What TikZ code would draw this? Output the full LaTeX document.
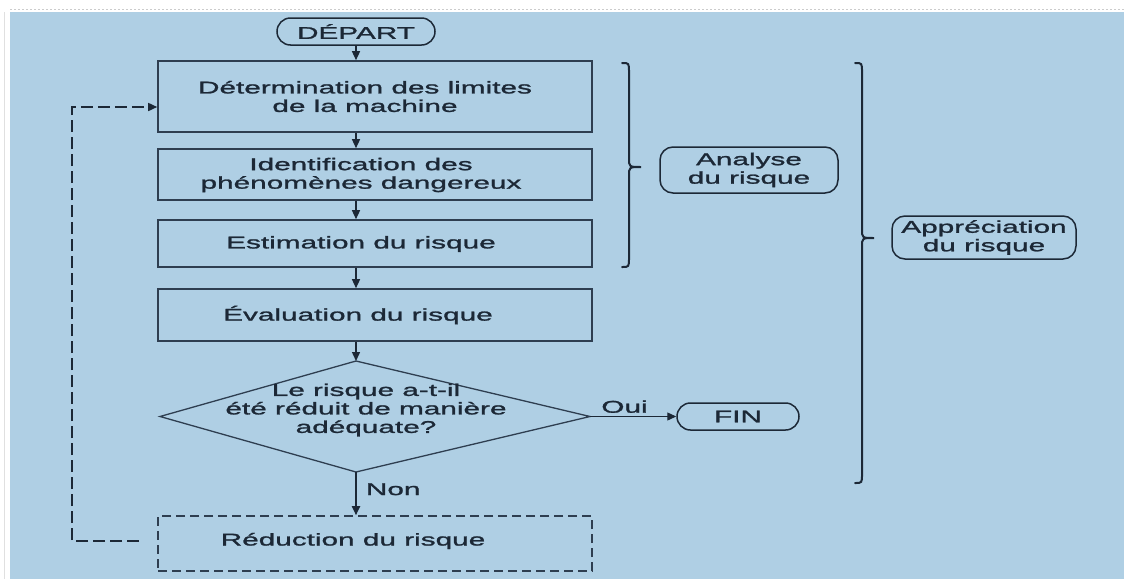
\documentclass[tikz,border=0pt]{standalone}
\usepackage{fontspec}
\setmainfont[FakeStretch=1.75,FakeBold=1.4]{Liberation Sans}
\usetikzlibrary{arrows.meta,shapes.misc,calc}
\definecolor{bg}{HTML}{AFCFE4}
\definecolor{ink}{HTML}{1C2836}
\definecolor{edge}{HTML}{2E3E50}
\begin{document}
\begin{tikzpicture}[x=1pt,y=-1pt,
  every node/.style={font=\fontsize{17}{18.5}\selectfont, text=ink},
  stepbox/.style={draw=edge, line width=1.6pt, minimum width=434pt, inner sep=0pt},
  txt/.style={align=center, inner sep=0pt},
  term/.style={rounded rectangle, draw=ink, line width=1.5pt, inner sep=0pt, minimum height=27pt},
  tag/.style={draw=ink, line width=1.5pt, rounded corners=13pt, align=center, inner sep=0pt},
  arr/.style={draw=ink, line width=1.4pt, -{Triangle[length=9pt,width=8pt]}},
  fb/.style={draw=ink, line width=1.6pt, dash pattern=on 12pt off 5pt, -{Triangle[length=9pt,width=8pt]}},
  brace/.style={draw=ink, line width=2pt, line cap=round}
]
% page and panel
\useasboundingbox (0,0) rectangle (1124,579);
\fill[white] (0,0) rectangle (1124,579);
\fill[bg] (10,12) rectangle (1124,579);
\draw[black!20, line width=1pt, dash pattern=on 2pt off 2pt] (10,9.5) -- (1124,9.5);
\draw[black!12, line width=0.8pt] (4,12) -- (4,579);

% start
\node[term, minimum width=158pt] (dep) at (356,31.5) {DÉPART};

% process steps
\node[stepbox, minimum height=71pt] (b1) at (375,96.5) {};
\node[txt] (t1) at (365,96.5) {Détermination des limites\\de la machine};
\node[stepbox, minimum height=51pt] (b2) at (375,174.5) {};
\node[txt] (t2) at (361,175) {Identification des\\phénomènes dangereux};
\node[stepbox, minimum height=47pt] (b3) at (375,243.5) {};
\node[txt] (t3) at (361,244) {Estimation du risque};
\node[stepbox, minimum height=52pt] (b4) at (375,315) {};
\node[txt] (t4) at (358,315) {Évaluation du risque};

% decision
\coordinate (dT) at (356,361);
\coordinate (dL) at (160,416.5);
\coordinate (dR) at (590,416.5);
\coordinate (dB) at (356,472);
\draw[draw=edge, line width=1.3pt] (dT) -- (dR) -- (dB) -- (dL) -- cycle;
\node[txt] (dq) at (366,410) {Le risque a-t-il\\été réduit de manière\\adéquate?};

% reduction step
\node[stepbox, dash pattern=on 9pt off 5pt, minimum height=55pt] (b5) at (375,543.5) {};
\node[txt] (t5) at (353,541) {Réduction du risque};

% end
\node[term, minimum width=122pt] (fin) at (738,416.5) {FIN};

% flow
\draw[arr] (dep.south) -- (dep.south |- b1.north);
\draw[arr] (b1.south -| dep) -- (b2.north -| dep);
\draw[arr] (b2.south -| dep) -- (b3.north -| dep);
\draw[arr] (b3.south -| dep) -- (b4.north -| dep);
\draw[arr] (b4.south -| dep) -- (dT);
\draw[arr, line width=1.8pt] (dB) -- (b5.north -| dB) node[pos=0.4, right=9pt, inner sep=0pt] (non) {Non};
\draw[arr, line width=1.3pt] (dR) -- (fin.west) node[pos=0.4, above=3pt, inner sep=0pt] (oui) {Oui};

% feedback loop
\coordinate (fbS) at ($(b5.west)+(-18,-2.5)$);
\coordinate (fbX) at (72,0);
\coordinate (fbE) at ($(b1.west)+(0,10.5)$);
\draw[fb] (fbS) -- (fbS -| fbX) -- (fbX |- fbE) -- (fbE);

% braces
\draw[brace] (622,63) .. controls (629,63) .. (629,72) -- (629,158)
  .. controls (629,167) .. (641,167) .. controls (629,167) .. (629,176)
  -- (629,258) .. controls (629,267) .. (622,267);
\draw[brace] (855,63) .. controls (862,63) .. (862,72) -- (862,229)
  .. controls (862,238) .. (874,238) .. controls (862,238) .. (862,247)
  -- (862,474) .. controls (862,483) .. (855,483);

% group labels
\node[tag, minimum width=178pt, minimum height=46pt] (ana) at (749,170) {Analyse\\du risque};
\node[tag, minimum width=184pt, minimum height=43pt] (app) at (984,237.5) {Appréciation\\du risque};
\end{tikzpicture}
\end{document}
